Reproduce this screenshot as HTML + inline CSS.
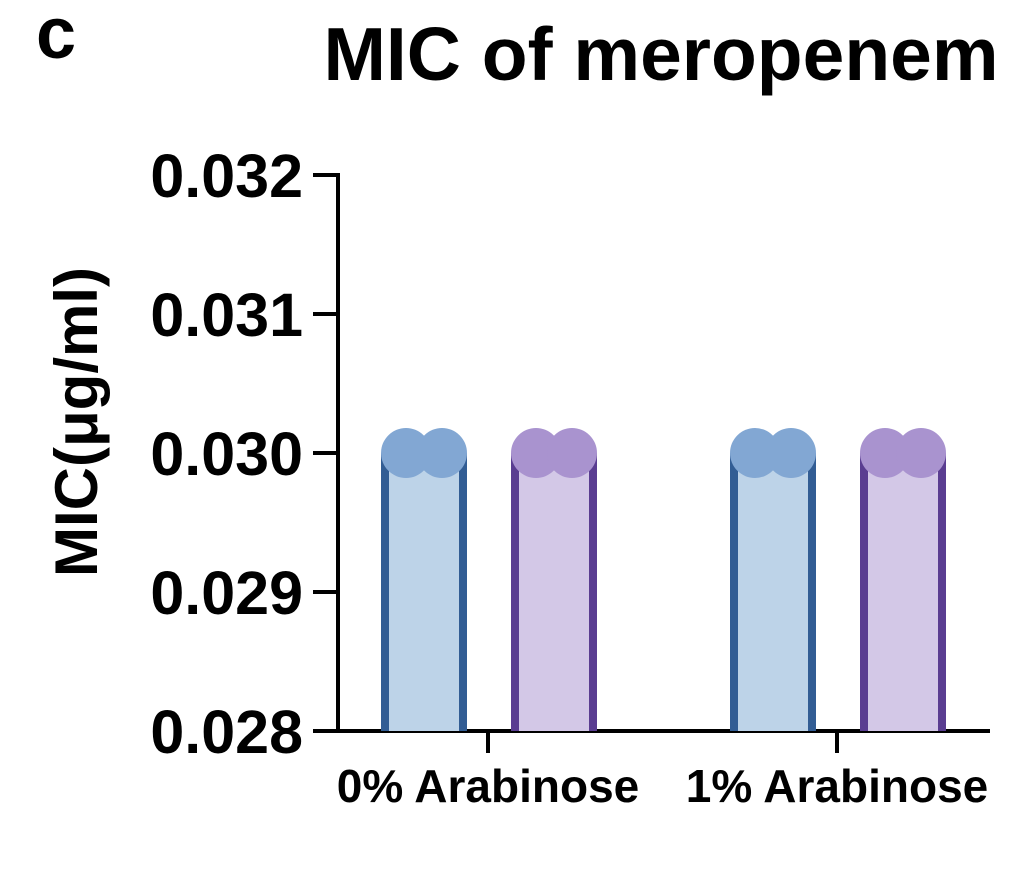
<!DOCTYPE html>
<html><head><meta charset="utf-8"><style>
body{margin:0;background:#fff;}
svg{display:block;font-family:"Liberation Sans",Arial,sans-serif;font-weight:bold;}
</style></head><body>
<svg id="chart" width="1024" height="878" viewBox="0 0 1024 878">
<text x="36" y="58" font-size="72">c</text>
<text x="661" y="80" font-size="75" text-anchor="middle">MIC of meropenem</text>
<text transform="translate(97,422) rotate(-90)" font-size="60" text-anchor="middle">MIC(μg/ml)</text>
<g id="yaxis"></g>
<g id="xaxis"></g>
<g id="bars"></g>
</svg>
<script>
const categories = ["0% Arabinose", "1% Arabinose"];
const seriesA = [0.030, 0.030];
const seriesB = [0.030, 0.030];
const pointsA = [[0.030, 0.030], [0.030, 0.030]];
const pointsB = [[0.030, 0.030], [0.030, 0.030]];
const yTicks = [0.028, 0.029, 0.030, 0.031, 0.032];
const yTickLabels = ["0.028", "0.029", "0.030", "0.031", "0.032"];

const NS = "http://www.w3.org/2000/svg";
const yMin = 0.028, yMax = 0.032, yBot = 731, yTop = 175;
function y(v){ return yBot - (v - yMin) / (yMax - yMin) * (yBot - yTop); }
const groupX = [488, 837];
function x(i){ return groupX[0] + i * (groupX[1] - groupX[0]); }
function mk(tag, attrs, parent){ const e = document.createElementNS(NS, tag); for (const k in attrs) e.setAttribute(k, attrs[k]); parent.appendChild(e); return e; }

const ya = document.getElementById('yaxis');
mk('line', {x1:338, y1:y(yMax)-2, x2:338, y2:yBot+2, stroke:'#000', 'stroke-width':4}, ya);
yTicks.forEach((t, i) => {
  const l = mk('line', {x1:313, y1:y(t), x2:338, y2:y(t), stroke:'#000', 'stroke-width':4}, ya);
  
  
  const tx = mk('text', {x:303, y:y(t)+22, 'font-size':61, 'text-anchor':'end'}, ya);
  tx.textContent = yTickLabels[i];
  
  
});
const xa = document.getElementById('xaxis');
mk('line', {x1:313, y1:yBot, x2:990, y2:yBot, stroke:'#000', 'stroke-width':4}, xa);
categories.forEach((c, i) => {
  const l = mk('line', {x1:x(i), y1:yBot, x2:x(i), y2:753, stroke:'#000', 'stroke-width':4}, xa);
  
  
  const tx = mk('text', {x:x(i), y:802, 'font-size':46, 'text-anchor':'middle'}, xa);
  tx.textContent = c;
  
  
});

const bg = document.getElementById('bars');
const styles = [
  {vals:seriesA, pts:pointsA, off:-64, fill:'#bdd3e8', stroke:'#325d94', dot:'#82a7d3', name:'bar-blue'},
  {vals:seriesB, pts:pointsB, off:66, fill:'#d3c8e7', stroke:'#5a3d91', dot:'#a993cf', name:'bar-purple'}
];
const bw = 86;
categories.forEach((c, i) => {
  styles.forEach(s => {
    const cx = x(i) + s.off;
    const top = y(s.vals[i]);
    const r = mk('rect', {x:cx-bw/2, y:top, width:bw, height:yBot-top, fill:s.fill}, bg);
    
    
    mk('rect', {x:cx-bw/2, y:top, width:8, height:yBot-top, fill:s.stroke}, bg);
    mk('rect', {x:cx+bw/2-8, y:top, width:8, height:yBot-top, fill:s.stroke}, bg);
    s.pts[i].forEach((p, j) => {
      const d = mk('circle', {cx:cx + (j === 0 ? -18 : 18), cy:y(p), r:25, fill:s.dot}, bg);
      
      
    });
  });
});
</script>
</body></html>
